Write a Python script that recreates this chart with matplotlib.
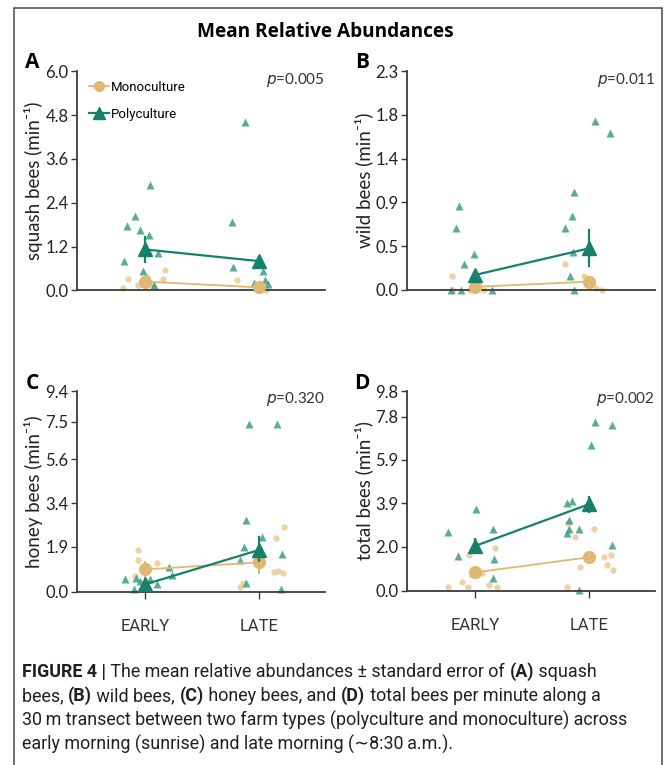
import numpy as np
import matplotlib
matplotlib.use("Agg")
import matplotlib.pyplot as plt
from matplotlib.lines import Line2D
from matplotlib.patches import Rectangle
from matplotlib import font_manager


# ----------------------------
# Data
# ----------------------------

GROUPS = ["EARLY", "LATE"]

# (A) squash bees: raw points are (jitter, value)
SQ_POLY_EARLY = [(-0.18, 0.79), (-0.16, 1.76), (-0.09, 2.04), (-0.04, 1.65), (0.035, 1.51),
                 (0.04, 2.89), (0.11, 1.03), (-0.02, 0.54), (0.08, 0.15)]
SQ_POLY_LATE = [(-0.12, 4.62), (-0.235, 1.87), (-0.23, 0.65), (0.035, 0.54), (0.05, 0.28),
                (-0.04, 0.21), (0.08, 0.17), (-0.02, 0.10)]
SQ_MONO_EARLY = [(-0.19, 0.05), (-0.15, 0.30), (-0.06, 0.15), (0.02, 0.37), (0.16, 0.30),
                 (0.18, 0.56), (0.06, 0.15)]
SQ_MONO_LATE = [(-0.19, 0.28), (-0.02, 0.10), (0.035, 0.05), (0.06, 0.02)]
SQ_POLY_MEAN = [1.12, 0.80]
SQ_POLY_SE = [0.36, 0.10]
SQ_MONO_MEAN = [0.24, 0.08]
SQ_MONO_SE = [0.08, 0.04]

# (B) wild bees
WB_POLY_EARLY = [(-0.21, 0.0), (-0.125, 0.0), (-0.14, 0.885), (-0.17, 0.65), (-0.10, 0.27),
                 (-0.01, 0.38), (0.15, 0.0)]
WB_POLY_LATE = [(0.05, 1.78), (0.18, 1.65), (-0.13, 1.03), (-0.15, 0.78), (-0.21, 0.65),
                (-0.14, 0.40), (-0.17, 0.14), (-0.13, 0.0)]
WB_MONO_EARLY = [(-0.20, 0.14), (-0.19, 0.0), (-0.04, 0.0), (0.08, 0.0)]
WB_MONO_LATE = [(-0.21, 0.27), (-0.04, 0.14), (0.06, 0.02), (0.11, 0.0)]
WB_POLY_MEAN = [0.155, 0.435]
WB_POLY_SE = [0.04, 0.20]
WB_MONO_MEAN = [0.03, 0.085]
WB_MONO_SE = [0.02, 0.04]

# (C) honey bees
HB_POLY_EARLY = [(-0.175, 0.52), (-0.08, 0.56), (-0.10, 0.10), (0.04, 0.52), (0.105, 0.31),
                 (0.215, 1.06), (0.24, 0.69), (-0.04, 0.45)]
HB_POLY_LATE = [(-0.09, 7.4), (0.16, 7.4), (-0.115, 2.81), (-0.13, 1.9), (0.026, 2.23),
                (-0.165, 1.34), (0.20, 1.58), (-0.115, 0.35), (0.19, 0.10)]
HB_MONO_EARLY = [(-0.06, 1.76), (-0.06, 1.34), (0.105, 1.20), (-0.09, 0.66), (0.01, 0.28),
                 (0.03, 0.14)]
HB_MONO_LATE = [(0.22, 2.59), (0.15, 2.19), (0.13, 0.84), (0.17, 0.89), (0.215, 0.77),
                (-0.17, 0.21), (-0.14, 0.35)]
HB_POLY_MEAN = [0.31, 1.76]
HB_POLY_SE = [0.12, 0.50]
HB_MONO_MEAN = [0.94, 1.24]
HB_MONO_SE = [0.35, 0.50]

# (D) total bees
TB_POLY_EARLY = [(-0.235, 2.66), (0.005, 3.67), (0.16, 2.77), (-0.15, 1.58), (0.17, 1.42),
                 (-0.02, 0.79), (0.16, 0.56)]
TB_POLY_LATE = [(0.055, 7.55), (0.20, 7.42), (0.015, 6.57), (-0.195, 3.90), (-0.145, 4.02),
                (-0.175, 3.17), (-0.085, 2.77), (-0.175, 2.77), (-0.19, 2.58), (0.20, 2.08),
                (-0.09, 0.03)]
TB_MONO_EARLY = [(-0.235, 0.15), (-0.11, 0.41), (-0.06, 0.15), (0.12, 0.26), (0.19, 0.18),
                 (0.18, 1.92), (-0.055, 1.60), (0.06, 0.79)]
TB_MONO_LATE = [(-0.18, 3.04), (-0.125, 2.42), (0.04, 2.77), (-0.08, 1.06), (0.13, 1.55),
                (0.19, 1.64), (0.16, 1.17), (0.215, 0.95), (-0.19, 0.15)]
TB_POLY_MEAN = [2.03, 3.86]
TB_POLY_SE = [0.35, 0.40]
TB_MONO_MEAN = [0.83, 1.52]
TB_MONO_SE = [0.15, 0.20]

# y tick labels of each panel
SQ_TICKS = [0.0, 1.2, 2.4, 3.6, 4.8, 6.0]
WB_TICKS = [0.0, 0.46, 0.92, 1.38, 1.84, 2.3]
HB_TICKS = [0.0, 1.9, 3.4, 5.6, 7.5, 9.4]
TB_TICKS = [0.0, 2.0, 3.9, 5.9, 7.8, 9.8]

P_VALUES = ["0.005", "0.011", "0.320", "0.002"]
YLABELS = ["squash bees (min\u207b\u00b9)", "wild bees (min\u207b\u00b9)",
           "honey bees (min\u207b\u00b9)", "total bees (min\u207b\u00b9)"]


# ----------------------------
# Style
# ----------------------------

POLY = "#17806a"
POLY_LIGHT = "#3f9c84"
MONO = "#dfb873"
MONO_LIGHT = "#e9cc98"
AXIS = "#3a3a3a"
W, H = 670, 765

installed = {f.name for f in font_manager.fontManager.ttflist}
SANS = ["Lato", "DejaVu Sans"]
CAPTION = ["Liberation Sans Narrow" if "Liberation Sans Narrow" in installed else "Roboto",
           "DejaVu Sans"]

plt.rcParams["font.family"] = SANS

# tick spacing in the picture is not even in panels C and D (pixel offsets of each tick)
HB_TICK_PIX = [0, 135, 265, 397, 509, 601]
TB_TICK_PIX = [0, 132, 262, 392, 522, 598]


def px_axes(fig, left, top, right, bottom):
    return fig.add_axes([left / W, 1 - bottom / H, (right - left) / W, (bottom - top) / H])


def draw_panel(ax, poly_raw, mono_raw, poly_mean, poly_se, mono_mean, mono_se,
               ticks, tick_pix=None, letter="", pval="", ylabel="", xlabels=False):
    if tick_pix is not None:
        fwd = lambda v: np.interp(v, ticks, tick_pix)
        inv = lambda p: np.interp(p, tick_pix, ticks)
        ax.set_yscale("function", functions=(fwd, inv))

    x = np.array([1, 2])

    for gi, pts in enumerate(mono_raw):
        dx, vals = zip(*pts)
        ax.plot(x[gi] + np.array(dx), vals, "o", ms=4.6, color=MONO_LIGHT,
                alpha=0.85, mec="none", clip_on=False, zorder=2)
    for gi, pts in enumerate(poly_raw):
        dx, vals = zip(*pts)
        ax.plot(x[gi] + np.array(dx), vals, "^", ms=6.0, color=POLY_LIGHT,
                alpha=0.85, mec="none", clip_on=False, zorder=2)

    ax.errorbar(x, mono_mean, yerr=mono_se, color=MONO, lw=1.3, elinewidth=1.4,
                marker="o", ms=8.5, capsize=0, clip_on=False, zorder=3)
    ax.errorbar(x, poly_mean, yerr=poly_se, color=POLY, lw=1.6, elinewidth=1.6,
                marker="^", ms=10.5, capsize=0, clip_on=False, zorder=4)

    ax.set_xlim(0.404, 2.579)
    ax.set_ylim(ticks[0], ticks[-1])
    ax.set_yticks(ticks)
    ax.set_yticklabels([f"{t:.1f}" for t in ticks])

    for s in ["top", "right"]:
        ax.spines[s].set_visible(False)
    for s in ["left", "bottom"]:
        ax.spines[s].set_color(AXIS)
        ax.spines[s].set_linewidth(1.3)
    ax.tick_params(axis="y", length=4, width=1.0, color=AXIS, labelsize=12,
                   labelcolor="#222222", pad=2)

    if xlabels:
        ax.set_xticks(x)
        ax.set_xticklabels(GROUPS, family=CAPTION, fontsize=12, color="#333333")
        ax.tick_params(axis="x", length=5, width=1.0, color=AXIS, pad=15)
    else:
        ax.set_xticks([])

    ax.set_ylabel(ylabel, fontsize=13.5, color="#222222", labelpad=2)
    ax.text(-0.18, 1.04, letter, transform=ax.transAxes, fontsize=15,
            fontweight="bold", family=["Open Sans", "DejaVu Sans"], ha="center", va="center")
    ax.text(1.0, 0.96, "$\\it{p}$=" + pval, transform=ax.transAxes, fontsize=11,
            ha="right", va="center", color="#333333")


def draw_runs(fig, x, y, runs, size, family):
    r = fig.canvas.get_renderer()
    dot = fig.text(0, 0, ".", fontsize=size, family=family)
    dot_w = dot.get_window_extent(r).width
    dot.remove()
    for txt, bold in runs:
        fig.text(x / W, 1 - y / H, txt, fontsize=size, family=family,
                 fontweight="bold" if bold else "normal", va="center", color="#231f20")
        probe = fig.text(0, 0, txt + ".", fontsize=size, family=family,
                         fontweight="bold" if bold else "normal")
        x += probe.get_window_extent(r).width - dot_w
        probe.remove()


# ----------------------------
# Figure
# ----------------------------

def main():
    fig = plt.figure(figsize=(W / 100, H / 100), dpi=100)

    fig.patches.append(Rectangle((14 / W, -0.1), (662 - 14) / W, 1.1 - 8 / H,
                                 transform=fig.transFigure, fill=False,
                                 edgecolor="#555555", lw=1.2))

    fig.text(325 / W, 1 - 32 / H, "Mean Relative Abundances", ha="center", va="center",
             fontsize=13.7, fontweight="bold", family=["Open Sans", "DejaVu Sans"])

    ax_a = px_axes(fig, 77, 71.3, 325, 290.3)
    ax_b = px_axes(fig, 407, 71.3, 655, 289.7)
    ax_c = px_axes(fig, 77, 391.3, 325, 591.7)
    ax_d = px_axes(fig, 407, 391.3, 655, 590.7)

    draw_panel(ax_a, [SQ_POLY_EARLY, SQ_POLY_LATE], [SQ_MONO_EARLY, SQ_MONO_LATE],
               SQ_POLY_MEAN, SQ_POLY_SE, SQ_MONO_MEAN, SQ_MONO_SE, SQ_TICKS,
               letter="A", pval=P_VALUES[0], ylabel=YLABELS[0])
    draw_panel(ax_b, [WB_POLY_EARLY, WB_POLY_LATE], [WB_MONO_EARLY, WB_MONO_LATE],
               WB_POLY_MEAN, WB_POLY_SE, WB_MONO_MEAN, WB_MONO_SE, WB_TICKS,
               letter="B", pval=P_VALUES[1], ylabel=YLABELS[1])
    draw_panel(ax_c, [HB_POLY_EARLY, HB_POLY_LATE], [HB_MONO_EARLY, HB_MONO_LATE],
               HB_POLY_MEAN, HB_POLY_SE, HB_MONO_MEAN, HB_MONO_SE, HB_TICKS,
               tick_pix=HB_TICK_PIX, letter="C", pval=P_VALUES[2], ylabel=YLABELS[2],
               xlabels=True)
    draw_panel(ax_d, [TB_POLY_EARLY, TB_POLY_LATE], [TB_MONO_EARLY, TB_MONO_LATE],
               TB_POLY_MEAN, TB_POLY_SE, TB_MONO_MEAN, TB_MONO_SE, TB_TICKS,
               tick_pix=TB_TICK_PIX, letter="D", pval=P_VALUES[3], ylabel=YLABELS[3],
               xlabels=True)

    handles = [Line2D([], [], color=MONO, marker="o", ms=7, lw=1.3),
               Line2D([], [], color=POLY, marker="^", ms=8.5, lw=1.6)]
    ax_a.legend(handles, ["Monoculture", "Polyculture"], loc="upper left",
                bbox_to_anchor=(0.0, 1.01), frameon=False,
                handlelength=1.5, handletextpad=0.2, labelspacing=1.05,
                prop={"family": CAPTION, "size": 9.5})

    size = 12.9
    draw_runs(fig, 22, 672, [("FIGURE 4 |", True),
                             (" The mean relative abundances \u00b1 standard error of ", False),
                             ("(A)", True), (" squash", False)], size, CAPTION)
    draw_runs(fig, 22, 696, [("bees, ", False), ("(B)", True), (" wild bees, ", False),
                             ("(C)", True), (" honey bees, and ", False), ("(D)", True),
                             (" total bees per minute along a", False)], size, CAPTION)
    draw_runs(fig, 22, 720, [("30\u2009m transect between two farm types (polyculture "
                              "and monoculture) across", False)], size, CAPTION)
    draw_runs(fig, 22, 744, [("early morning (sunrise) and late morning (\u223c8:30\u2009a.m.).",
                              False)], size, CAPTION)

    fig.savefig("out.png", dpi=100)


if __name__ == "__main__":
    main()
